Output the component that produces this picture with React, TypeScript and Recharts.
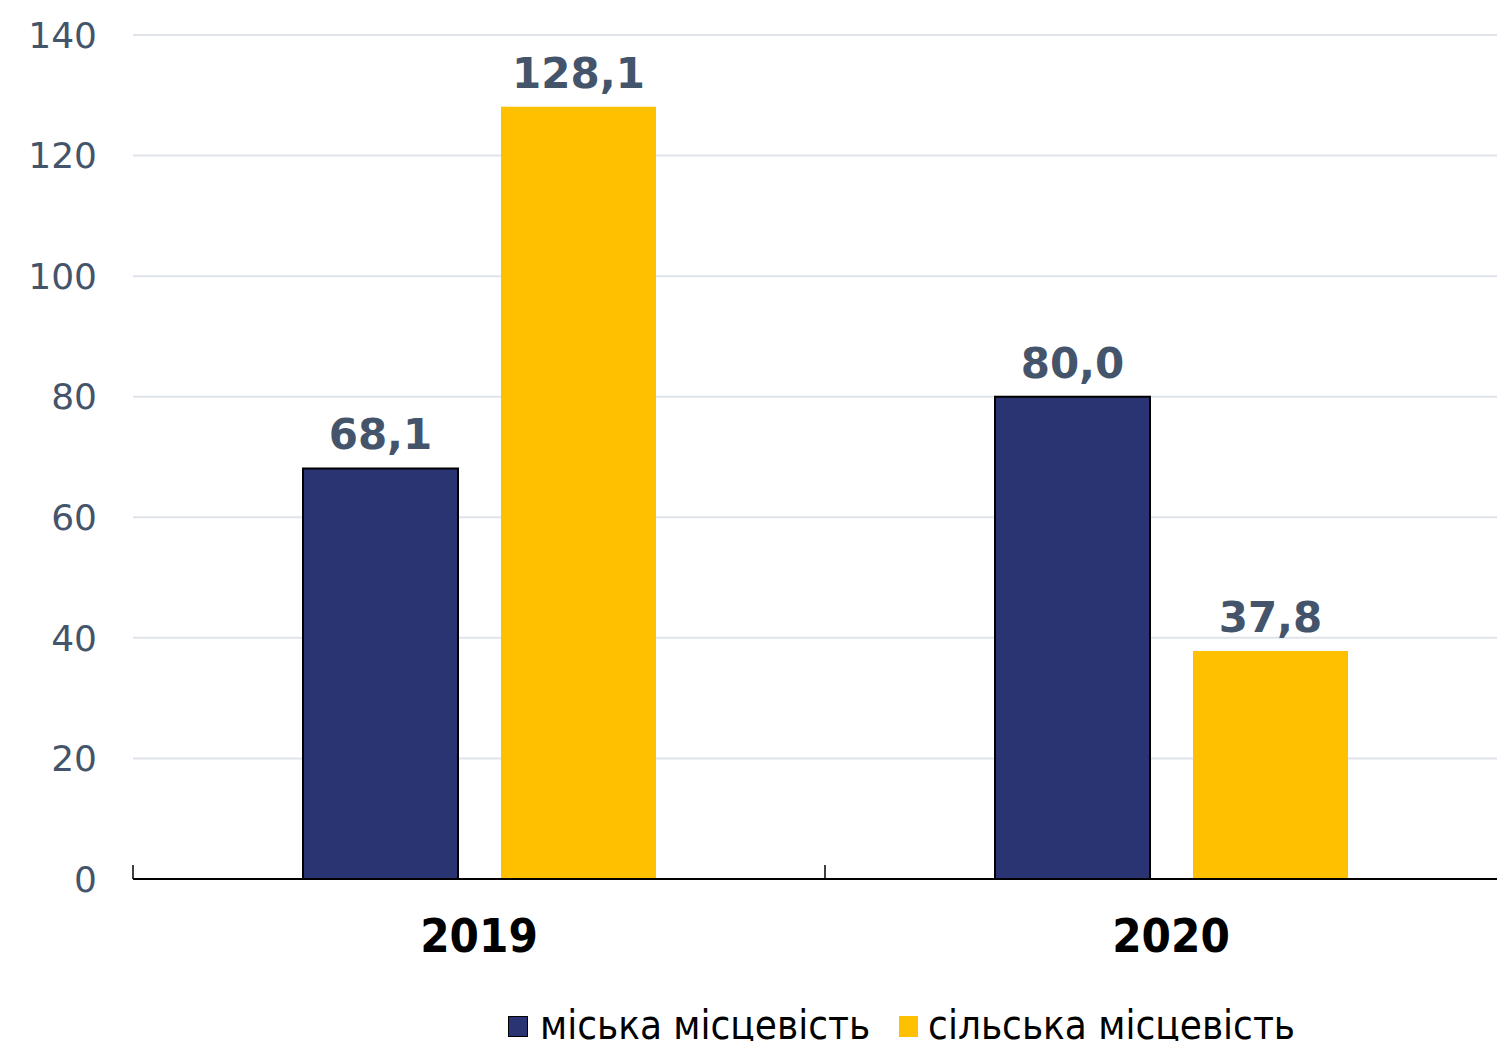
import React from "react";
import { Bar, BarChart, CartesianGrid, LabelList, Legend, XAxis, YAxis } from "recharts";

const YEARS = ["2019", "2020"];
const URBAN = [68.1, 80.0];
const RURAL = [128.1, 37.8];
const Y_TICKS = [0, 20, 40, 60, 80, 100, 120, 140];
const SERIES_NAMES = ["міська місцевість", "сільська місцевість"];

const NAVY = "#2a3472";
const YELLOW = "#ffc000";
const SLATE = "#44546a";
const CONDENSED = "'DejaVu Sans Condensed', 'Liberation Sans Narrow', 'DejaVu Sans', sans-serif";

const data = YEARS.map((year, i) => ({ year, urban: URBAN[i], rural: RURAL[i] }));

const fmt = (v: number) => v.toFixed(1).replace(".", ",");

function YearTick(props: any) {
  const { x, y, payload } = props;
  const half = payload?.offset ?? 346;
  return (
    <g>
      <line x1={x - half} x2={x - half} y1={y - 14} y2={y} stroke="#000" strokeWidth={1.5} />
      <text
        x={x}
        y={y + 73}
        textAnchor="middle"
        fontFamily={CONDENSED}
        fontStretch="condensed"
        fontWeight="bold"
        fontSize={47}
        fill="#000"
      >
        {payload.value}
      </text>
    </g>
  );
}

function LegendBox() {
  const colors = [NAVY, YELLOW];
  return (
    <div
      style={{
        height: 60,
        display: "flex",
        alignItems: "flex-start",
        paddingTop: 5,
        boxSizing: "border-box",
        paddingLeft: 508,
        fontFamily: CONDENSED,
        fontStretch: "condensed",
        fontSize: 40,
        lineHeight: 1,
        color: "#000",
        whiteSpace: "nowrap",
      }}
    >
      {SERIES_NAMES.map((name, i) => (
        <span key={name} style={{ display: "flex", alignItems: "flex-start", marginRight: 29 }}>
          <span
            style={{
              display: "inline-block",
              width: i === 0 ? 18 : 19,
              height: i === 0 ? 19 : 21,
              marginTop: 11,
              background: colors[i],
              border: i === 0 ? "1.5px solid #000" : "none",
              marginRight: i === 0 ? 12 : 10,
            }}
          />
          {name}
        </span>
      ))}
    </div>
  );
}

export default function App() {
  return (
    <div
      style={{
        position: "absolute",
        left: 0,
        top: 0,
        width: 1497,
        height: 1041,
        overflow: "hidden",
        background: "#fff",
      }}
    >
      <BarChart
        width={1517}
        height={1060}
        data={data}
        margin={{ top: 35, right: 0, left: 0, bottom: 0 }}
        barCategoryGap={170}
        barGap={43}
      >
        <CartesianGrid vertical={false} stroke="#dfe3ea" strokeWidth={2} />
        <XAxis
          dataKey="year"
          height={121}
          tickSize={0}
          tickMargin={0}
          tickLine={false}
          axisLine={{ stroke: "#000", strokeWidth: 2 }}
          tick={<YearTick />}
        />
        <YAxis
          width={133}
          domain={[0, 140]}
          ticks={Y_TICKS}
          axisLine={false}
          tickLine={false}
          tickSize={0}
          tickMargin={36}
          tick={{ fill: SLATE, fontSize: 36, fontFamily: "'DejaVu Sans', sans-serif" }}
        />
        <Legend verticalAlign="bottom" content={<LegendBox />} />
        <Bar dataKey="urban" name={SERIES_NAMES[0]} fill={NAVY} stroke="#000" strokeWidth={2} isAnimationActive={false}>
          <LabelList
            dataKey="urban"
            position="top"
            offset={19}
            formatter={(v: any) => fmt(Number(v))}
            style={{ fill: SLATE, fontSize: 42, fontWeight: "bold", fontFamily: "'DejaVu Sans', sans-serif" }}
          />
        </Bar>
        <Bar dataKey="rural" name={SERIES_NAMES[1]} fill={YELLOW} isAnimationActive={false}>
          <LabelList
            dataKey="rural"
            position="top"
            offset={19}
            formatter={(v: any) => fmt(Number(v))}
            style={{ fill: SLATE, fontSize: 42, fontWeight: "bold", fontFamily: "'DejaVu Sans', sans-serif" }}
          />
        </Bar>
      </BarChart>
    </div>
  );
}
